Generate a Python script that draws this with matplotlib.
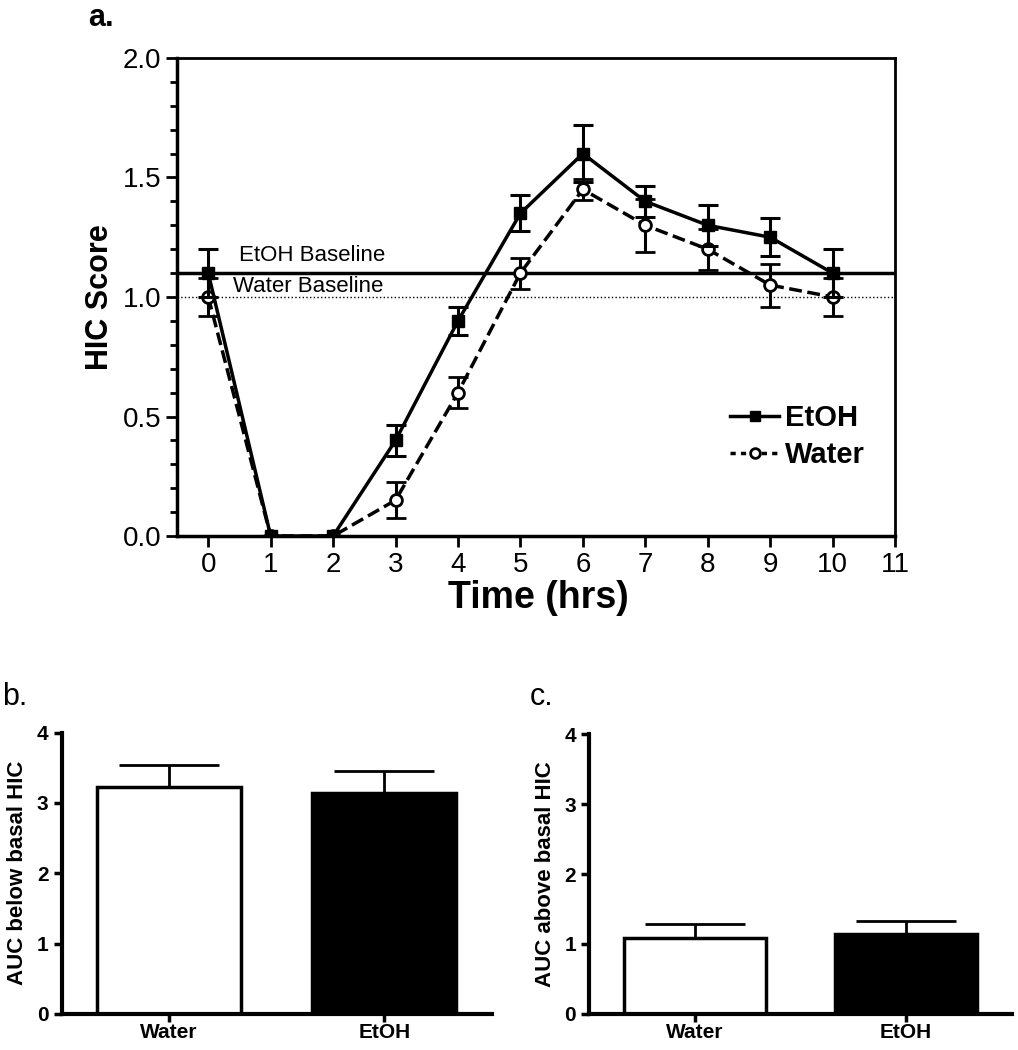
import matplotlib.pyplot as plt
from matplotlib.lines import Line2D
import numpy as np

plt.rcParams['font.family'] = ['Liberation Sans', 'DejaVu Sans']

# Panel a: HIC score over time
hours = [0, 1, 2, 3, 4, 5, 6, 7, 8, 9, 10]
etoh_hic = [1.10, 0.0, 0.0, 0.40, 0.90, 1.35, 1.60, 1.40, 1.30, 1.25, 1.10]
etoh_err = [0.10, 0.0, 0.0, 0.065, 0.06, 0.075, 0.12, 0.065, 0.085, 0.08, 0.10]
water_hic = [1.00, 0.0, 0.0, 0.15, 0.60, 1.10, 1.45, 1.30, 1.20, 1.05, 1.00]
water_err = [0.08, 0.0, 0.0, 0.075, 0.065, 0.065, 0.045, 0.11, 0.085, 0.09, 0.08]
etoh_baseline = 1.10
water_baseline = 1.00

# Panels b and c: area under curve
groups = ['Water', 'EtOH']
auc_below = [3.23, 3.14]
auc_below_err = [0.31, 0.31]
auc_above = [1.09, 1.14]
auc_above_err = [0.19, 0.19]

fig = plt.figure(figsize=(10.18, 10.5), dpi=100)

# ---- panel a ----
ax = fig.add_axes([0.1739, 0.4895, 0.7053, 0.4553])
ax.axhline(etoh_baseline, color='black', lw=2.5, zorder=1)
ax.axhline(water_baseline, color='black', lw=1, ls=':', zorder=1)
ax.errorbar(hours, etoh_hic, yerr=etoh_err, color='black', lw=2.5, marker='s',
            ms=8.5, capsize=7, elinewidth=2.2, capthick=2.2, zorder=3)
ax.errorbar(hours, water_hic, yerr=water_err, color='black', lw=2.5, ls='--',
            marker='o', ms=8.5, mfc='white', mew=2, capsize=7, elinewidth=2.2,
            capthick=2.2, zorder=2)
ax.text(0.5, etoh_baseline + 0.03, 'EtOH Baseline', fontsize=16, va='bottom')
ax.text(0.4, water_baseline + 0.0, 'Water Baseline', fontsize=16, va='bottom')

ax.set_xlim(-0.5, 11)
ax.set_ylim(0, 2.0)
ax.set_xticks(range(0, 12))
ax.set_yticks([0.0, 0.5, 1.0, 1.5, 2.0])
ax.set_yticklabels(['0.0', '0.5', '1.0', '1.5', '2.0'])
ax.set_yticks(np.arange(0, 2.01, 0.1), minor=True)
ax.tick_params(axis='both', which='major', direction='out', length=8, width=2,
               labelsize=20)
ax.tick_params(axis='y', which='minor', direction='out', length=5, width=2)
for side in ['left', 'bottom']:
    ax.spines[side].set_linewidth(2.5)
for side in ['top', 'right']:
    ax.spines[side].set_linewidth(2)

handles = [
    Line2D([], [], color='black', lw=2.5, marker='s', ms=7),
    Line2D([], [], color='black', lw=2.5, ls=(0, (1.5, 1.5)), marker='o', ms=7,
           mfc='white', mew=2),
]
ax.legend(handles, ['EtOH', 'Water'], loc='lower right',
          bbox_to_anchor=(0.995, 0.085), frameon=False,
          prop={'weight': 'bold', 'size': 21}, handlelength=1.7,
          handletextpad=0.2, labelspacing=0.3)

fig.text(100 / 1018, 1 - 297 / 1050, 'HIC Score', rotation=90, fontsize=22,
         fontweight='bold', ha='center', va='center')
fig.text(538 / 1018, 1 - 598 / 1050, 'Time (hrs)', fontsize=27,
         fontweight='bold', ha='center', va='center')
fig.text(88 / 1018, 1 - 18 / 1050, 'a.', fontsize=22, fontweight='bold',
         ha='left', va='center')


def auc_panel(rect, values, errs, ylabel):
    axb = fig.add_axes(rect)
    x = np.arange(len(groups))
    axb.bar(x, values, width=0.67, color=['white', 'black'], edgecolor='black',
            linewidth=2.5, zorder=2)
    axb.errorbar(x, values, yerr=[[0, 0], errs], fmt='none', ecolor='black',
                 elinewidth=2, capsize=36, capthick=2, zorder=1)
    axb.set_xlim(-0.5, 1.5)
    axb.set_ylim(0, 4)
    axb.set_yticks([0, 1, 2, 3, 4])
    axb.set_xticks(x)
    axb.set_xticklabels(groups, fontweight='bold', fontsize=15)
    for lbl in axb.get_yticklabels():
        lbl.set_fontweight('bold')
        lbl.set_fontsize(15)
    axb.tick_params(axis='both', direction='out', length=6, width=2.5)
    axb.tick_params(axis='x', pad=1)
    axb.spines['top'].set_visible(False)
    axb.spines['right'].set_visible(False)
    axb.spines['left'].set_linewidth(3)
    axb.spines['bottom'].set_linewidth(3)
    axb.set_ylabel(ylabel, fontsize=16, fontweight='bold', labelpad=6)
    return axb


auc_panel([0.0606, 0.0345, 0.4224, 0.2677], auc_below, auc_below_err,
          'AUC below basal HIC')
auc_panel([0.5789, 0.0345, 0.4149, 0.2662], auc_above, auc_above_err,
          'AUC above basal HIC')

fig.text(2 / 1018, 1 - 697 / 1050, 'b.', fontsize=22, ha='left', va='center')
fig.text(530 / 1018, 1 - 697 / 1050, 'c.', fontsize=22, ha='left', va='center')

fig.savefig('out.png', dpi=100)
